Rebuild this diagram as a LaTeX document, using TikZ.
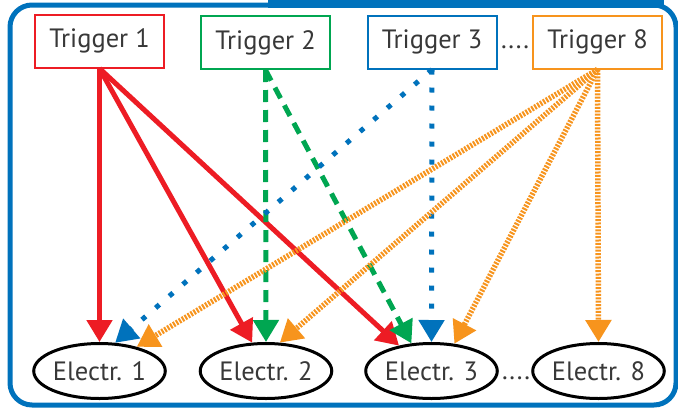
\documentclass[tikz,border=0pt]{standalone}
\usepackage{fontspec}
\setmainfont{PT Sans}
\usetikzlibrary{arrows.meta,shapes.geometric}
\definecolor{cred}{HTML}{ED1C24}
\definecolor{cgreen}{HTML}{00A651}
\definecolor{cblue}{HTML}{0072BC}
\definecolor{corange}{HTML}{F7941D}
\definecolor{ctext}{HTML}{383838}
\tikzset{
  trig/.style={draw, line width=2pt, fill=white, minimum width=129pt, minimum height=53pt, inner sep=0pt, text=ctext, font=\fontsize{26.5}{30}\selectfont},
  elec/.style={draw=black, ellipse, line width=3pt, fill=white, minimum width=129pt, minimum height=55pt, inner sep=0pt, text=ctext, font=\fontsize{26.5}{30}\selectfont},
  dots/.style={text=ctext, font=\fontsize{26.5}{30}\selectfont, inner sep=0pt},
  arr/.style={line width=5pt, -{Triangle[width=25pt,length=22pt]}},
  redarr/.style={arr, cred},
  greenarr/.style={arr, cgreen, dash pattern=on 12pt off 8pt},
  bluearr/.style={arr, cblue, dash pattern=on 5pt off 13pt},
  orangearr/.style={arr, corange, line width=5.5pt, dash pattern=on 2pt off 1.4pt},
}
\begin{document}
\begin{tikzpicture}[x=1pt,y=-1pt]
\useasboundingbox (0,0) rectangle (678,410);
\fill[white] (0,0) rectangle (678,410);
\draw[cblue, line width=5pt, rounded corners=22pt] (10,5) rectangle (676,405);
\fill[cblue] (268,0) rectangle (664,8);

\node[trig, draw=cred] (t1) at (99.5,41) {Trigger 1};
\node[trig, draw=cgreen] (t2) at (265.5,42.5) {Trigger 2};
\node[trig, draw=cblue] (t3) at (432,42) {Trigger 3};
\node[trig, draw=corange] (t8) at (597.5,42) {Trigger 8};
\node[dots] (d1) at (515,47) {....};

\node[elec] (e1) at (99.5,371) {Electr. 1};
\node[elec] (e2) at (266,371) {Electr. 2};
\node[elec] (e3) at (431.5,371) {Electr. 3};
\node[elec] (e8) at (598.5,371) {Electr. 8};
\node[dots] (d2) at (516,378) {....};

\draw[redarr] (t1.south) -- (e1.north);
\draw[redarr] (t1.south) -- (e2.116);
\draw[redarr] (t1.south) -- (e3.142);
\draw[greenarr] (t2.south) -- (e2.north);
\draw[greenarr] (t2.south) -- (e3.126);
\draw[bluearr] (t3.south) -- (e3.north);
\draw[bluearr] (t3.south) -- (e1.61);
\draw[orangearr] (t8.south) -- (e1.33);
\draw[orangearr] (t8.south) -- (e2.64);
\draw[orangearr] (t8.south) -- (e3.50);
\draw[orangearr] (t8.south) -- (e8.north);
\end{tikzpicture}
\end{document}
